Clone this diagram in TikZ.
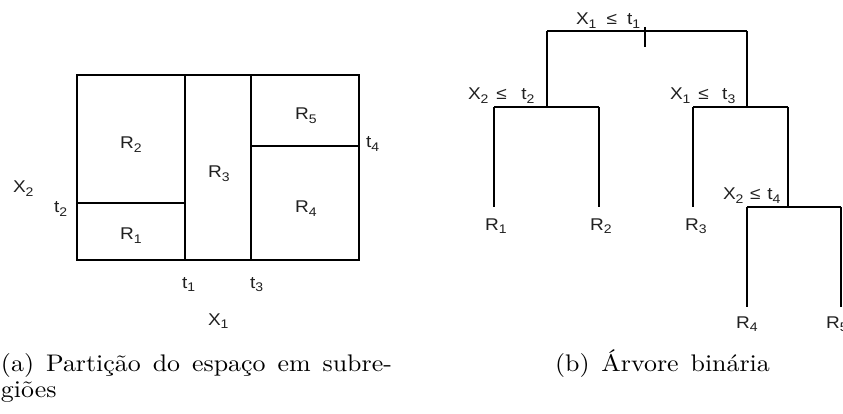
\documentclass[tikz,border=0pt]{standalone}
\usepackage{fontspec}
\newfontfamily\arialf{Liberation Sans}
\newfontfamily\capf[Extension=.otf]{lmroman10-regular}
\definecolor{labelgray}{HTML}{202020}
\newcommand\sbs[1]{\raisebox{-3.5pt}{\fontsize{12.5}{13}\selectfont #1}}
\tikzset{
  lbl/.style={anchor=base west, inner sep=0pt, outer sep=0pt, text=labelgray, xscale=1.12,
    font=\arialf\fontsize{17}{19}\selectfont},
  ln/.style={line width=1.4pt, black},
  captxt/.style={anchor=base west, inner sep=0pt, outer sep=0pt, xscale=1.08,
    font=\capf\fontsize{24}{26}\selectfont}
}
\begin{document}
\begin{tikzpicture}[x=1pt,y=-1pt]
\useasboundingbox (0,0) rectangle (843,414);
% ---------- (a) partition ----------
\draw[ln] (77,75) rectangle (359,260);
\draw[ln] (185,75) -- (185,260);
\draw[ln] (251,75) -- (251,260);
\draw[ln] (77,203) -- (185,203);
\draw[ln] (251,146) -- (359,146);
\node[lbl] (aR2) at (120,149) {R\sbs{2}};
\node[lbl] (aR1) at (120,240) {R\sbs{1}};
\node[lbl] (aR3) at (208,178) {R\sbs{3}};
\node[lbl] (aR5) at (295,120) {R\sbs{5}};
\node[lbl] (aR4) at (295,213) {R\sbs{4}};
\node[lbl] (at2) at (54,213) {t\sbs{2}};
\node[lbl] (aX2) at (13,193) {X\sbs{2}};
\node[lbl] (at4) at (366,148) {t\sbs{4}};
\node[lbl] (at1) at (182,288) {t\sbs{1}};
\node[lbl] (at3) at (250,288) {t\sbs{3}};
\node[lbl] (aX1) at (208,325) {X\sbs{1}};
% ---------- (b) tree ----------
\coordinate (s1L) at (547,31);
\coordinate (s1R) at (747,31);
\coordinate (tkT) at (645,27);
\coordinate (tkB) at (645,47);
\coordinate (s2) at (547,107);
\coordinate (s2L) at (494,107);
\coordinate (s2R) at (599,107);
\coordinate (s3) at (747,107);
\coordinate (s3L) at (693,107);
\coordinate (s3R) at (788,107);
\coordinate (s4) at (788,207);
\coordinate (s4L) at (747,207);
\coordinate (s4R) at (841,207);
\coordinate (e1) at (494,207);
\coordinate (e2) at (599,207);
\coordinate (e3) at (693,207);
\coordinate (e4) at (747,307);
\coordinate (e5) at (841,307);
\draw[ln] (s1L) -- (s1R);
\draw[ln] (tkT) -- (tkB);
\draw[ln] (s1L) -- (s2);
\draw[ln] (s1R) -- (s3);
\draw[ln] (s2L) -- (s2R);
\draw[ln] (s3L) -- (s3R);
\draw[ln] (s2L) -- (e1);
\draw[ln] (s2R) -- (e2);
\draw[ln] (s3L) -- (e3);
\draw[ln] (s3R) -- (s4);
\draw[ln] (s4L) -- (s4R);
\draw[ln] (s4L) -- (e4);
\draw[ln] (s4R) -- (e5);
\node[lbl] (q1) at (576,25) {X\sbs{1}\hspace{9pt}≤\hspace{9pt}t\sbs{1}};
\node[lbl] (q2) at (468,100) {X\sbs{2}\hspace{7pt}≤\hspace{13pt}t\sbs{2}};
\node[lbl] (q3) at (670,100) {X\sbs{1}\hspace{7pt}≤\hspace{12pt}t\sbs{3}};
\node[lbl] (q4) at (723,200) {X\sbs{2}\hspace{6pt}≤\hspace{6pt}t\sbs{4}};
\node[lbl] (bR1) at (485,230) {R\sbs{1}};
\node[lbl] (bR2) at (590,230) {R\sbs{2}};
\node[lbl] (bR3) at (685,230) {R\sbs{3}};
\node[lbl] (bR4) at (736,328) {R\sbs{4}};
\node[lbl] (bR5) at (826,328) {R\sbs{5}};
% ---------- captions ----------
\node[captxt] (capa1) at (1,371) {\hbox to 362pt{(a) Partição do espaço em subre-}};
\node[captxt] (capa2) at (1,397) {giões};
\node[captxt] (capb) at (555,371) {\hbox to 199pt{(b) Árvore binária}};
\end{tikzpicture}
\end{document}
